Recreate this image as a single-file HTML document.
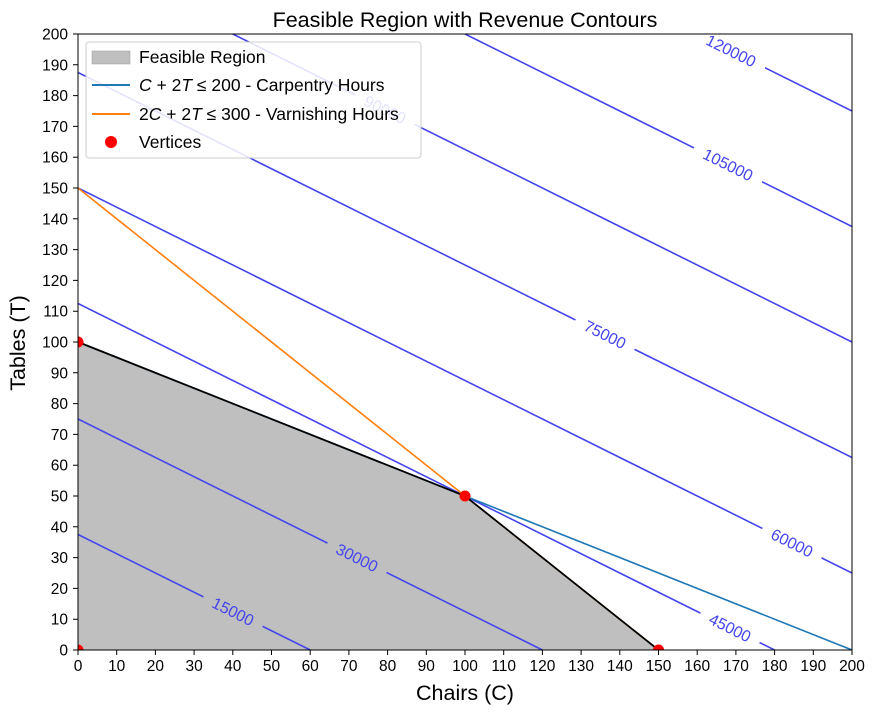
<!DOCTYPE html>
<html><head><meta charset="utf-8"><style>body{margin:0;background:#fff}svg{display:block;font-family:"Liberation Sans","DejaVu Sans",sans-serif}</style></head><body>
<svg width="877" height="713" viewBox="0 0 877 713" xmlns="http://www.w3.org/2000/svg">
<defs><clipPath id="c"><rect x="78" y="34" width="774" height="616"/></clipPath></defs>
<text x="465" y="27" font-size="21.5" text-anchor="middle">Feasible Region with Revenue Contours</text>
<g clip-path="url(#c)">
<polygon points="78,650 78,342 465,496 658.5,650" fill="#bfbfbf"/>
<g stroke="#4444ee" stroke-width="1.6" fill="none">
<line x1="78" y1="534.5" x2="310.2" y2="650"/>
<line x1="78" y1="419" x2="542.4" y2="650"/>
<line x1="78" y1="303.5" x2="774.6" y2="650"/>
<line x1="78" y1="188" x2="852" y2="573"/>
<line x1="78" y1="72.5" x2="852" y2="457.5"/>
<line x1="232.8" y1="34" x2="852" y2="342"/>
<line x1="465" y1="34" x2="852" y2="226.5"/>
<line x1="697.2" y1="34" x2="852" y2="111"/>
</g>
<g font-size="16" fill="#4444ee" text-anchor="middle">
<g transform="translate(233,611.6) rotate(26.4)"><rect x="-33" y="-9" width="66" height="18" fill="#bfbfbf"/><text y="5.5">15000</text></g>
<g transform="translate(357,557.8) rotate(26.4)"><rect x="-33" y="-9" width="66" height="18" fill="#bfbfbf"/><text y="5.5">30000</text></g>
<g transform="translate(730,627.8) rotate(26.4)"><rect x="-33" y="-9" width="66" height="18" fill="#fff"/><text y="5.5">45000</text></g>
<g transform="translate(792,543) rotate(26.4)"><rect x="-33" y="-9" width="66" height="18" fill="#fff"/><text y="5.5">60000</text></g>
<g transform="translate(605,334.6) rotate(26.4)"><rect x="-33" y="-9" width="66" height="18" fill="#fff"/><text y="5.5">75000</text></g>
<g transform="translate(385,109.7) rotate(26.4)"><rect x="-33" y="-9" width="66" height="18" fill="#fff"/><text y="5.5">90000</text></g>
<g transform="translate(728,164.8) rotate(26.4)"><rect x="-38" y="-9" width="76" height="18" fill="#fff"/><text y="5.5">105000</text></g>
<g transform="translate(731,50.8) rotate(26.4)"><rect x="-38" y="-9" width="76" height="18" fill="#fff"/><text y="5.5">120000</text></g>
</g>
<line x1="78" y1="342" x2="852" y2="650" stroke="#1f77b4" stroke-width="1.6"/>
<line x1="78" y1="188" x2="658.5" y2="650" stroke="#ff7f0e" stroke-width="1.6"/>
<polyline points="78,342 465,496 658.5,650" fill="none" stroke="#000" stroke-width="1.8"/>
<g fill="#ff0000"><circle cx="78" cy="650" r="5.5"/><circle cx="78" cy="342" r="5.5"/><circle cx="465" cy="496" r="5.5"/><circle cx="658.5" cy="650" r="5.5"/></g>
</g>
<rect x="78" y="34" width="774" height="616" fill="none" stroke="#000" stroke-width="1"/>
<path stroke="#000" stroke-width="1" d="M78 650v5M116.7 650v5M155.4 650v5M194.1 650v5M232.8 650v5M271.5 650v5M310.2 650v5M348.9 650v5M387.6 650v5M426.3 650v5M465 650v5M503.7 650v5M542.4 650v5M581.1 650v5M619.8 650v5M658.5 650v5M697.2 650v5M735.9 650v5M774.6 650v5M813.3 650v5M852 650v5
M73 650h5M73 619.2h5M73 588.4h5M73 557.6h5M73 526.8h5M73 496h5M73 465.2h5M73 434.4h5M73 403.6h5M73 372.8h5M73 342h5M73 311.2h5M73 280.4h5M73 249.6h5M73 218.8h5M73 188h5M73 157.2h5M73 126.4h5M73 95.6h5M73 64.8h5M73 34h5"/>
<g font-size="15.5" text-anchor="middle">
<text x="78" y="671">0</text><text x="116.7" y="671">10</text><text x="155.4" y="671">20</text><text x="194.1" y="671">30</text><text x="232.8" y="671">40</text><text x="271.5" y="671">50</text><text x="310.2" y="671">60</text><text x="348.9" y="671">70</text><text x="387.6" y="671">80</text><text x="426.3" y="671">90</text><text x="465" y="671">100</text><text x="503.7" y="671">110</text><text x="542.4" y="671">120</text><text x="581.1" y="671">130</text><text x="619.8" y="671">140</text><text x="658.5" y="671">150</text><text x="697.2" y="671">160</text><text x="735.9" y="671">170</text><text x="774.6" y="671">180</text><text x="813.3" y="671">190</text><text x="852" y="671">200</text>
</g>
<g font-size="15.5" text-anchor="end">
<text x="68" y="655.5">0</text><text x="68" y="624.7">10</text><text x="68" y="593.9">20</text><text x="68" y="563.1">30</text><text x="68" y="532.3">40</text><text x="68" y="501.5">50</text><text x="68" y="470.7">60</text><text x="68" y="439.9">70</text><text x="68" y="409.1">80</text><text x="68" y="378.3">90</text><text x="68" y="347.5">100</text><text x="68" y="316.7">110</text><text x="68" y="285.9">120</text><text x="68" y="255.1">130</text><text x="68" y="224.3">140</text><text x="68" y="193.5">150</text><text x="68" y="162.7">160</text><text x="68" y="131.9">170</text><text x="68" y="101.1">180</text><text x="68" y="70.3">190</text><text x="68" y="39.5">200</text>
</g>
<text x="465" y="700" font-size="21.5" text-anchor="middle">Chairs (C)</text>
<text transform="translate(25,343) rotate(-90)" font-size="21.5" text-anchor="middle">Tables (T)</text>
<g>
<rect x="86" y="42" width="335" height="116" rx="3" fill="#fff" fill-opacity="0.85" stroke="#ccc"/>
<rect x="92" y="51" width="38" height="13" fill="#bfbfbf" stroke="#999" stroke-width="0.5"/>
<text x="139" y="63" font-size="17.5">Feasible Region</text>
<line x1="92" y1="85" x2="130" y2="85" stroke="#1f77b4" stroke-width="2"/>
<text x="139" y="91" font-size="17.5"><tspan font-style="italic">C</tspan> + 2<tspan font-style="italic">T</tspan> ≤ 200 - Carpentry Hours</text>
<line x1="92" y1="114" x2="130" y2="114" stroke="#ff7f0e" stroke-width="2"/>
<text x="139" y="120" font-size="17.5">2<tspan font-style="italic">C</tspan> + 2<tspan font-style="italic">T</tspan> ≤ 300 - Varnishing Hours</text>
<circle cx="111" cy="142" r="6" fill="#ff0000"/>
<text x="139" y="148" font-size="17.5">Vertices</text>
</g>
</svg>
</body></html>
